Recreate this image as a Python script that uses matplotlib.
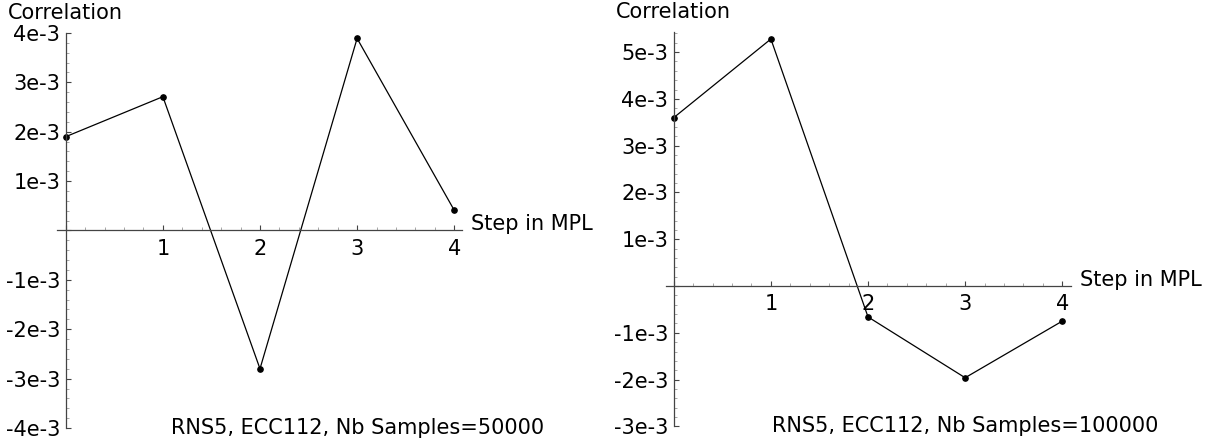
import matplotlib
matplotlib.use("Agg")
import matplotlib.pyplot as plt
from matplotlib.ticker import MultipleLocator, FuncFormatter

# Correlation per MPL step, two sample sizes
steps = [0, 1, 2, 3, 4]
corr_50k = [1.90e-3, 2.71e-3, -2.80e-3, 3.89e-3, 0.41e-3]
corr_100k = [3.60e-3, 5.28e-3, -0.66e-3, -1.96e-3, -0.75e-3]
captions = ["RNS5, ECC112, Nb Samples=50000", "RNS5, ECC112, Nb Samples=100000"]

W, H = 1219, 445
FS = 15
AXIS_COLOR = "#444444"


def sci_label(v, pos):
    if abs(v) < 1e-12:
        return ""
    return "%de-3" % round(v * 1e3)


def x_label(v, pos):
    if abs(v) < 1e-9:
        return ""
    return "%d" % round(v)


def setup(ax, ylim, xlim):
    ax.set_xlim(*xlim)
    ax.set_ylim(*ylim)
    ax.spines["left"].set_position(("data", 0))
    ax.spines["bottom"].set_position(("data", 0))
    ax.spines["top"].set_visible(False)
    ax.spines["right"].set_visible(False)
    for s in ("left", "bottom"):
        ax.spines[s].set_color(AXIS_COLOR)
        ax.spines[s].set_linewidth(0.9)
    ax.patch.set_visible(False)

    ax.xaxis.set_major_locator(MultipleLocator(1))
    ax.xaxis.set_minor_locator(MultipleLocator(0.2))
    ax.yaxis.set_major_locator(MultipleLocator(1e-3))
    ax.yaxis.set_minor_locator(MultipleLocator(0.2e-3))
    ax.xaxis.set_major_formatter(FuncFormatter(x_label))
    ax.yaxis.set_major_formatter(FuncFormatter(sci_label))

    ax.tick_params(which="major", direction="in", length=3.5, width=0.8,
                   color=AXIS_COLOR, labelsize=FS, pad=4)
    ax.tick_params(which="minor", direction="in", length=2, width=0.6,
                   color="#999999")
    ax.tick_params(axis="x", which="major", pad=6)


def panel(left_px, y_axis_px, xlim, ylim, top_px, bottom_px, values, caption):
    width_px = 405
    ax = fig.add_axes([left_px / W, 1 - bottom_px / H,
                       width_px / W, (bottom_px - top_px) / H])
    setup(ax, ylim, xlim)
    ax.plot(steps, values, color="black", linewidth=0.9,
            marker="o", markersize=3.8, clip_on=False)
    # axis titles: y at the top of the vertical axis, x at the right end
    ax.text(0, ylim[1], "Correlation", ha="center", va="bottom",
            fontsize=FS, transform=ax.transData).set_y(ylim[1] + (ylim[1] - ylim[0]) * 0.025)
    ax.text(xlim[1] + 0.09, 0, "Step in MPL", ha="left", va="baseline",
            fontsize=FS)
    ax.text(3, ylim[0], caption, ha="center", va="center", fontsize=FS)
    return ax


fig = plt.figure(figsize=(W / 100, H / 100), dpi=100)

panel(57, 65.7, (-0.09, 4.08), (-4e-3, 4e-3), 33, 428, corr_50k, captions[0])
panel(666, 674, (-0.08, 4.09), (-3e-3, 5.43e-3), 32, 426.4, corr_100k, captions[1])

fig.savefig("out.png", dpi=100, facecolor="white")
